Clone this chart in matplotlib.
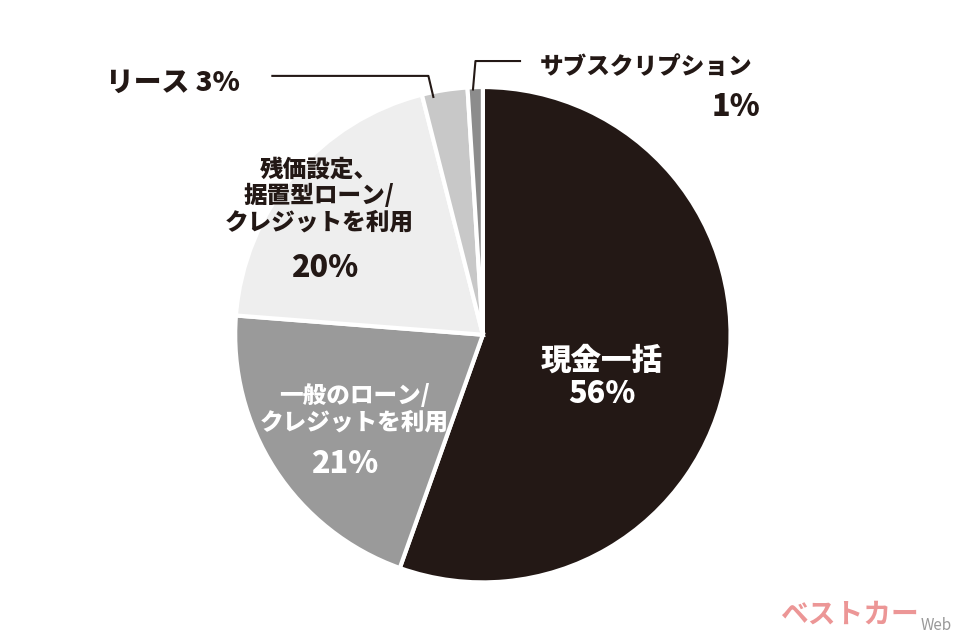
import matplotlib
matplotlib.use("Agg")
import matplotlib.pyplot as plt

plt.rcParams['font.family'] = ['Noto Sans CJK JP', 'DejaVu Sans']

categories = ["現金一括", "一般のローン/\nクレジットを利用", "残価設定、\n据置型ローン/\nクレジットを利用", "リース", "サブスクリプション"]
values = [56, 21, 20, 3, 1]
colors = ["#231815", "#9a9a9a", "#eeeeee", "#c8c8c8", "#8c8c8c"]

fig = plt.figure(figsize=(9.6, 6.4), dpi=100)
ax = fig.add_axes([0.503 - 0.258, 0.477 - 0.388, 0.516, 0.776])
ax.pie(values, colors=colors, startangle=90, counterclock=False,
       wedgeprops=dict(edgecolor="white", linewidth=3))
ax.set_xlim(-1, 1); ax.set_ylim(-1, 1)
ax.set_aspect('equal')
ax.axis('off')

kw = dict(ha='center', va='center', fontweight='black', linespacing=1.1, clip_on=False)
ax.text(0.48, -0.17, f"{categories[0]}\n{values[0]}%", color='white', fontsize=22, **kw)
ax.text(-0.52, -0.30, f"{categories[1]}", color='white', fontsize=17, **kw)
ax.text(-0.56, -0.52, f"{values[1]}%", color='white', fontsize=22, **kw)
ax.text(-0.66, 0.56, f"{categories[2]}", color='#231815', fontsize=17, **kw)
ax.text(-0.64, 0.27, f"{values[2]}%", color='#231815', fontsize=22, **kw)
ax.text(-1.25, 1.02, f"{categories[3]} {values[3]}%", color='#231815', fontsize=20, **kw)
ax.text(0.66, 1.08, categories[4], color='#231815', fontsize=17, **kw)
ax.text(1.02, 0.92, f"{values[4]}%", color='#231815', fontsize=22, **kw)
ax.plot([-0.85, -0.22, -0.20], [1.045, 1.045, 0.96], color='#231815', lw=1.5, clip_on=False)
ax.plot([0.15, -0.03, -0.04], [1.105, 1.105, 0.99], color='#231815', lw=1.5, clip_on=False)

fig.text(0.885, 0.04, "ベストカー", color='#e05050', fontsize=20, fontweight='bold',
         ha='center', va='center', alpha=0.6)
fig.text(0.975, 0.022, "Web", color='#999999', fontsize=11, ha='center', va='center')
fig.savefig("out.png", dpi=100, facecolor='white')
